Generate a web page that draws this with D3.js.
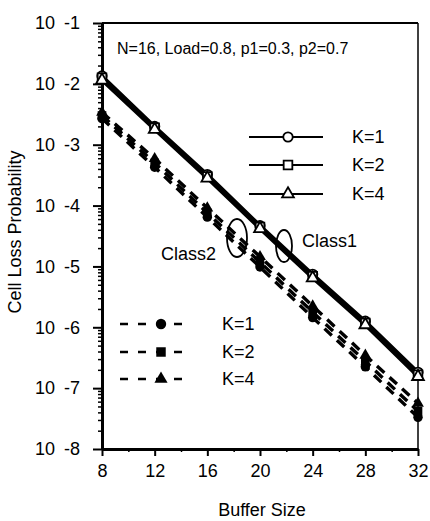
<!DOCTYPE html>
<html>
<head>
<meta charset="utf-8">
<script src="https://cdn.jsdelivr.net/npm/d3@7"></script>
<style>
  body { margin: 0; background: #fff; }
  text { font-family: Arial, "Liberation Sans", sans-serif; fill: #000; }
</style>
</head>
<body>
<div id="chart"></div>
<script>
var width = 430,
    height = 521;

// buffer sizes on the x axis
var bufferSizes = [8, 12, 16, 20, 24, 28, 32];
var xMinor = [10, 14, 18, 22, 26, 30];
var decades = [-1, -2, -3, -4, -5, -6, -7, -8];

// log10 of cell loss probability
var class1K1 = [-1.87, -2.70, -3.49, -4.33, -5.13, -5.90, -6.74];
var class1K2 = [-1.90, -2.72, -3.52, -4.35, -5.16, -5.93, -6.78];
var class1K4 = [-1.94, -2.75, -3.55, -4.38, -5.19, -5.96, -6.81];
var class2K1 = [-2.57, -3.37, -4.19, -5.01, -5.84, -6.65, -7.48];
var class2K2 = [-2.52, -3.30, -4.12, -4.93, -5.75, -6.56, -7.38];
var class2K4 = [-2.47, -3.23, -4.04, -4.84, -5.65, -6.46, -7.25];

var legendLabels = ["K=1", "K=2", "K=4"];

// plot box (note: "top" is a reserved window property, so use prefixed names)
var plotLeft = 102, plotRight = 418, plotTop = 23, plotBottom = 449;

var svg = d3.select("#chart")
  .append("svg")
  .attr("width", width)
  .attr("height", height);

var xScale = d3.scaleLinear().domain([8, 32]).range([plotLeft, plotRight]);
var yScale = d3.scaleLog().domain([1e-8, 1e-1]).range([plotBottom, plotTop]);

// top and right frame
svg.append("line").attr("x1", plotLeft).attr("x2", plotRight).attr("y1", plotTop).attr("y2", plotTop)
  .attr("stroke", "#000").attr("stroke-width", 2);
svg.append("line").attr("x1", plotRight).attr("x2", plotRight).attr("y1", plotTop).attr("y2", plotBottom)
  .attr("stroke", "#000").attr("stroke-width", 1.5);

// minor log ticks
var yMinor = [];
decades.forEach(function(e) {
  if (e === -1) return;
  for (var m = 2; m <= 9; m++) yMinor.push(m * Math.pow(10, e));
});

svg.append("g")
  .attr("transform", "translate(" + plotLeft + ",0)")
  .call(d3.axisLeft(yScale).tickValues(yMinor).tickSize(4).tickFormat(""))
  .call(function(g) { g.select(".domain").remove(); g.selectAll("line").attr("stroke-width", 1.5); });

var yAxis = svg.append("g")
  .attr("transform", "translate(" + plotLeft + ",0)")
  .call(d3.axisLeft(yScale)
    .tickValues(decades.map(function(e) { return Math.pow(10, e); }))
    .tickSize(9)
    .tickSizeOuter(0)
    .tickPadding(13)
    .tickFormat(function(d) { return Math.round(Math.log10(d)); }));

yAxis.select(".domain").attr("stroke-width", 3);
yAxis.selectAll("line").attr("stroke-width", 2);
yAxis.selectAll("text")
  .attr("font-size", 18)
  .attr("font-family", "Arial, 'Liberation Sans', sans-serif")
  .each(function(d) {
    var t = d3.select(this);
    var e = Math.round(Math.log10(d));
    t.text("");
    t.append("tspan").text("10");
    t.append("tspan").attr("dx", 9).text("-" + Math.abs(e));
  });

// x axis
svg.append("g")
  .attr("transform", "translate(0," + plotBottom + ")")
  .call(d3.axisBottom(xScale).tickValues(xMinor).tickSize(3).tickFormat(""))
  .call(function(g) { g.select(".domain").remove(); g.selectAll("line").attr("stroke-width", 1.5); });

var xAxis = svg.append("g")
  .attr("transform", "translate(0," + plotBottom + ")")
  .call(d3.axisBottom(xScale).tickValues(bufferSizes).tickSize(7).tickSizeOuter(0).tickPadding(8));

xAxis.select(".domain").attr("stroke-width", 3);
xAxis.selectAll("line").attr("stroke-width", 2);
xAxis.selectAll("text")
  .attr("font-size", 18)
  .attr("font-family", "Arial, 'Liberation Sans', sans-serif");

// axis titles
svg.append("text")
  .attr("x", 262).attr("y", 516)
  .attr("text-anchor", "middle")
  .attr("font-size", 18)
  .text("Buffer Size");

svg.append("text")
  .attr("transform", "translate(21,232) rotate(-90)")
  .attr("text-anchor", "middle")
  .attr("font-size", 18)
  .text("Cell Loss Probability");

svg.append("text")
  .attr("x", 117).attr("y", 54)
  .attr("font-size", 16)
  .text("N=16, Load=0.8, p1=0.3, p2=0.7");

var line = d3.line()
  .x(function(d, i) { return xScale(bufferSizes[i]); })
  .y(function(d) { return yScale(Math.pow(10, d)); });

var symbolTypes = [d3.symbolCircle, d3.symbolSquare, d3.symbolTriangle];
var symbolSizes = [70, 75, 60];

var class1 = [class1K1, class1K2, class1K4];
var class2 = [class2K1, class2K2, class2K4];

// class 2: dashed lines, filled markers
class2.forEach(function(series, k) {
  svg.append("path")
    .datum(series)
    .attr("d", line)
    .attr("fill", "none")
    .attr("stroke", "#000")
    .attr("stroke-width", 3.4)
    .attr("stroke-dasharray", "10,7");
});
class2.forEach(function(series, k) {
  svg.selectAll(null)
    .data(series)
    .enter()
    .append("path")
    .attr("transform", function(d, i) { return "translate(" + xScale(bufferSizes[i]) + "," + yScale(Math.pow(10, d)) + ")"; })
    .attr("d", d3.symbol().type(symbolTypes[k]).size(symbolSizes[k]))
    .attr("fill", "#000");
});

// class 1: solid lines, open markers
class1.forEach(function(series, k) {
  svg.append("path")
    .datum(series)
    .attr("d", line)
    .attr("fill", "none")
    .attr("stroke", "#000")
    .attr("stroke-width", 3.6);
});
class1.forEach(function(series, k) {
  svg.selectAll(null)
    .data(series)
    .enter()
    .append("path")
    .attr("transform", function(d, i) { return "translate(" + xScale(bufferSizes[i]) + "," + yScale(Math.pow(10, d)) + ")"; })
    .attr("d", d3.symbol().type(symbolTypes[k]).size(symbolSizes[k]))
    .attr("fill", "#fff")
    .attr("stroke", "#000")
    .attr("stroke-width", 1.8);
});

// legend for class 1 (top right)
var legend1Y = [137, 165, 194];
legendLabels.forEach(function(label, k) {
  var y = legend1Y[k];
  svg.append("line").attr("x1", 249).attr("x2", 323).attr("y1", y).attr("y2", y)
    .attr("stroke", "#000").attr("stroke-width", 2);
  svg.append("path")
    .attr("transform", "translate(288," + y + ")")
    .attr("d", d3.symbol().type(symbolTypes[k]).size(symbolSizes[k]))
    .attr("fill", "#fff").attr("stroke", "#000").attr("stroke-width", 1.8);
  svg.append("text").attr("x", 352).attr("y", y + 6).attr("font-size", 18).text(label);
});

// legend for class 2 (bottom left)
var legend2Y = [324, 352, 379];
legendLabels.forEach(function(label, k) {
  var y = legend2Y[k];
  svg.append("line").attr("x1", 120).attr("x2", 186).attr("y1", y).attr("y2", y)
    .attr("stroke", "#000").attr("stroke-width", 2.5).attr("stroke-dasharray", "8,10");
  svg.append("path")
    .attr("transform", "translate(161," + y + ")")
    .attr("d", d3.symbol().type(symbolTypes[k]).size(symbolSizes[k] + 15))
    .attr("fill", "#000");
  svg.append("text").attr("x", 222).attr("y", y + 6).attr("font-size", 18).text(label);
});

// class annotations
svg.append("ellipse").attr("cx", 237).attr("cy", 238).attr("rx", 10).attr("ry", 19)
  .attr("fill", "none").attr("stroke", "#000").attr("stroke-width", 1.8);
svg.append("ellipse").attr("cx", 284).attr("cy", 246).attr("rx", 8).attr("ry", 16)
  .attr("fill", "none").attr("stroke", "#000").attr("stroke-width", 1.8);
svg.append("text").attr("x", 161).attr("y", 260).attr("font-size", 18).text("Class2");
svg.append("text").attr("x", 302).attr("y", 247).attr("font-size", 18).text("Class1");
</script>
</body>
</html>
